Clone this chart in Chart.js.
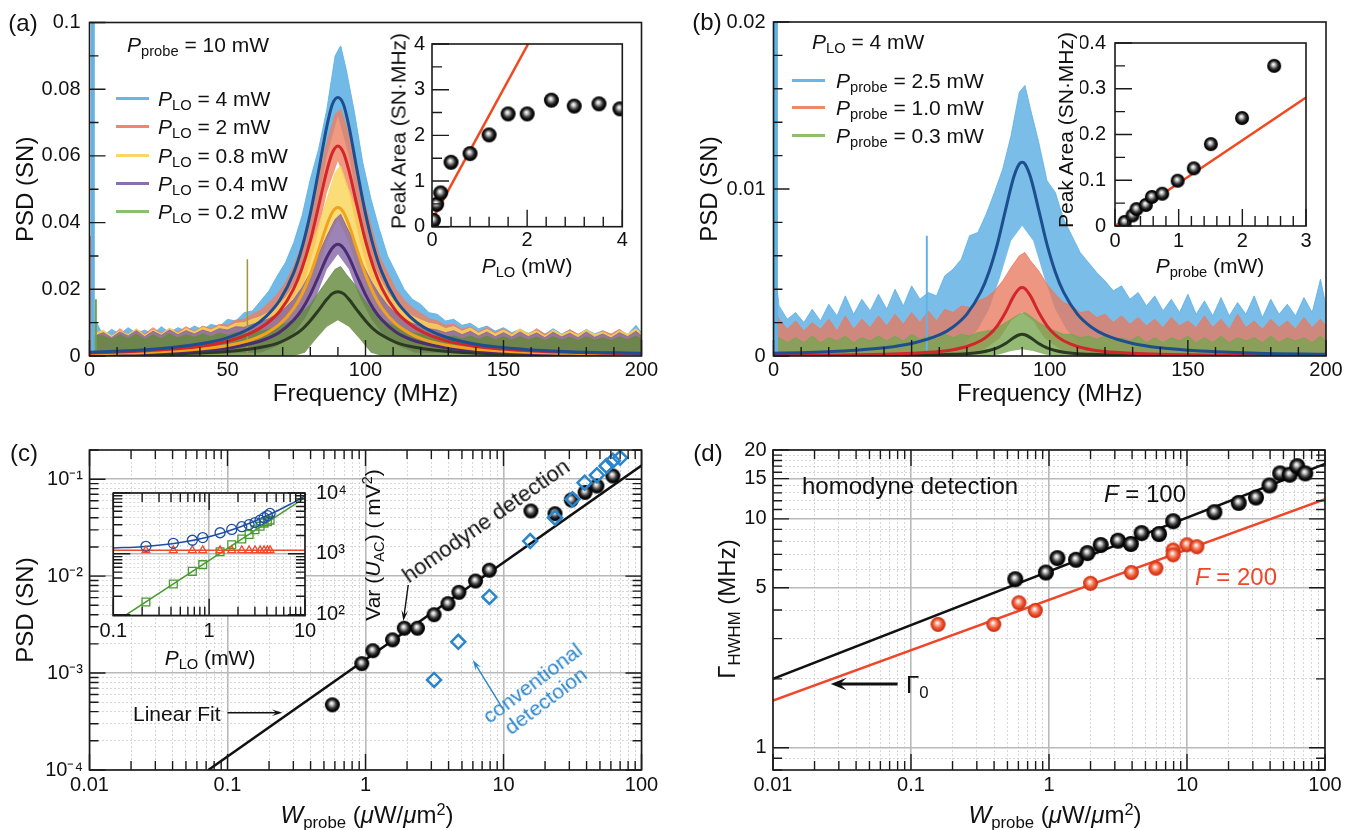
<!DOCTYPE html>
<html>
<head>
<meta charset="utf-8">
<title>Homodyne detection of the PSD peak</title>
<script src="https://cdn.jsdelivr.net/npm/chart.js@4.4.1/dist/chart.umd.min.js"></script>
<style>
  body { margin: 0; width: 1351px; height: 830px; position: relative; overflow: hidden; background: #fff;
         font-family: "Liberation Sans", Arial, sans-serif; color: #111; }
  canvas { position: absolute; }
  .t { position: absolute; white-space: nowrap; line-height: 1; }
  .t sub { font-size: 0.7em; vertical-align: -0.32em; line-height: 0; font-style: normal; }
  .t sup { font-size: 0.68em; vertical-align: 0.5em; line-height: 0; }
  .key { position: absolute; height: 3px; }
</style>
</head>
<body>
<script>
const FONT = '"Liberation Sans", Arial, sans-serif';

// ---------- (a) / (b) spectra : upper and lower edge of the noisy traces ----------
const FREQ = [0, 2, 5, 8, 11, 14, 17, 20, 23, 26, 29, 32, 35, 38, 41, 44, 47, 50, 53, 56, 59, 62, 65, 68, 71, 74, 77, 80, 83, 86,
  89, 91, 93, 96, 99, 102, 105, 108, 111, 114, 117, 120, 123, 126, 129, 132, 135, 138, 141, 144, 147, 150, 153, 156, 159,
  162, 165, 168, 171, 174, 177, 180, 183, 186, 189, 192, 195, 198, 200];
const LOW_FREQ = [0, 62, 68, 74, 78, 82, 86, 90, 94, 98, 102, 106, 112, 118, 200];

const A_BLUE_HI = [0.009, 0.011, 0.006, 0.008, 0.0065, 0.0085, 0.0068, 0.0078, 0.0065, 0.0088, 0.007, 0.0085, 0.0075, 0.009, 0.0078,
  0.0095, 0.0088, 0.011, 0.0105, 0.013, 0.0135, 0.0165, 0.0195, 0.024, 0.028, 0.034, 0.042, 0.053, 0.062, 0.074, 0.09, 0.093, 0.086,
  0.073, 0.058, 0.047, 0.038, 0.03, 0.025, 0.02, 0.017, 0.0155, 0.013, 0.0125, 0.0105, 0.011, 0.0092, 0.0098, 0.0082, 0.009, 0.0075,
  0.0085, 0.007, 0.008, 0.0068, 0.0078, 0.0065, 0.0082, 0.0066, 0.0078, 0.0064, 0.008, 0.0066, 0.0076, 0.0063, 0.0078, 0.0065, 0.0092, 0.007];
const A_RED_HI = [0.011, 0.007, 0.0075, 0.0058, 0.0082, 0.0062, 0.008, 0.0066, 0.0085, 0.0068, 0.0082, 0.0072, 0.0088, 0.0074, 0.009,
  0.0082, 0.0095, 0.0092, 0.0108, 0.011, 0.0125, 0.0138, 0.016, 0.0185, 0.022, 0.027, 0.0335, 0.043, 0.053, 0.064, 0.0725, 0.074, 0.069,
  0.06, 0.048, 0.039, 0.03, 0.025, 0.02, 0.0168, 0.0145, 0.0128, 0.0112, 0.0105, 0.0092, 0.0095, 0.008, 0.0088, 0.0072, 0.0085, 0.007,
  0.0082, 0.0066, 0.0078, 0.0064, 0.0082, 0.0066, 0.0076, 0.0062, 0.0079, 0.0065, 0.0077, 0.0061, 0.0075, 0.0066, 0.008, 0.0062, 0.0078, 0.0066];
const A_YEL_HI = [0.008, 0.0068, 0.0078, 0.006, 0.0075, 0.0064, 0.0082, 0.0062, 0.0078, 0.0066, 0.0084, 0.0068, 0.0082, 0.0072, 0.0086,
  0.0078, 0.009, 0.0086, 0.0098, 0.01, 0.011, 0.0118, 0.0132, 0.015, 0.0175, 0.021, 0.026, 0.032, 0.039, 0.047, 0.055, 0.057, 0.052,
  0.045, 0.036, 0.029, 0.0235, 0.019, 0.0158, 0.0135, 0.012, 0.0108, 0.0098, 0.0094, 0.0082, 0.0088, 0.0074, 0.0084, 0.0068, 0.008, 0.0066,
  0.0078, 0.0064, 0.0082, 0.0066, 0.0076, 0.006, 0.0078, 0.0064, 0.0074, 0.0062, 0.0079, 0.0064, 0.0072, 0.006, 0.0076, 0.0066, 0.0082, 0.0068];
const A_PUR_HI = [0.0075, 0.006, 0.007, 0.0055, 0.0072, 0.006, 0.0076, 0.0058, 0.0074, 0.0062, 0.0078, 0.0064, 0.0076, 0.0066, 0.0078,
  0.007, 0.0082, 0.0078, 0.0088, 0.0086, 0.0095, 0.0102, 0.0112, 0.0126, 0.0145, 0.017, 0.0205, 0.025, 0.0305, 0.036, 0.041, 0.0425, 0.039,
  0.034, 0.0275, 0.0225, 0.0185, 0.0152, 0.0128, 0.011, 0.0098, 0.009, 0.0082, 0.0078, 0.007, 0.0076, 0.0064, 0.0074, 0.006, 0.0072, 0.0058,
  0.007, 0.0057, 0.0072, 0.0058, 0.0069, 0.0055, 0.0071, 0.0057, 0.0068, 0.0055, 0.0072, 0.0056, 0.0066, 0.0054, 0.007, 0.0058, 0.0074, 0.006];
const A_GRN_HI = [0.0065, 0.0062, 0.006, 0.005, 0.0063, 0.0052, 0.0065, 0.005, 0.0063, 0.0052, 0.0066, 0.0054, 0.0064, 0.0056, 0.0066,
  0.0058, 0.0068, 0.0062, 0.007, 0.0066, 0.0072, 0.0074, 0.008, 0.0087, 0.0097, 0.011, 0.013, 0.0155, 0.019, 0.0225, 0.026, 0.0268, 0.0245,
  0.0215, 0.0175, 0.0142, 0.0118, 0.01, 0.0088, 0.0078, 0.007, 0.0066, 0.006, 0.0062, 0.0056, 0.006, 0.0052, 0.006, 0.005, 0.0059, 0.0049,
  0.0058, 0.0048, 0.0058, 0.0048, 0.0057, 0.0047, 0.0058, 0.0048, 0.0056, 0.0047, 0.0058, 0.0048, 0.0055, 0.0047, 0.0057, 0.0049, 0.006, 0.005];

const A_BLUE_LO = [0, 0.004, 0.009, 0.0175, 0.027, 0.042, 0.06, 0.072, 0.06, 0.042, 0.027, 0.0175, 0.009, 0.004, 0];
const A_RED_LO = [0, 0.003, 0.0075, 0.0145, 0.0225, 0.034, 0.049, 0.0585, 0.049, 0.034, 0.0225, 0.0145, 0.0075, 0.003, 0];
const A_YEL_LO = [0, 0.0015, 0.0045, 0.0095, 0.015, 0.0235, 0.034, 0.041, 0.034, 0.0235, 0.015, 0.0095, 0.0045, 0.0015, 0];
const A_PUR_LO = [0, 0.001, 0.003, 0.0068, 0.0112, 0.0175, 0.026, 0.0305, 0.026, 0.0175, 0.0112, 0.0068, 0.003, 0.001, 0];
const A_GRN_LO = [0, 0, 0, 0, 0.001, 0.005, 0.0088, 0.0107, 0.0088, 0.005, 0.001, 0, 0, 0, 0];

const B_BLUE_HI = [0.006, 0.003, 0.0022, 0.0026, 0.002, 0.0028, 0.0021, 0.0031, 0.0024, 0.0036, 0.0025, 0.0034, 0.0027, 0.0037, 0.0028,
  0.004, 0.003, 0.0042, 0.0034, 0.0038, 0.0036, 0.0048, 0.0052, 0.0058, 0.0072, 0.0074, 0.0085, 0.0098, 0.0112, 0.0132, 0.0158, 0.0162,
  0.0148, 0.0128, 0.0105, 0.0098, 0.0082, 0.0072, 0.0062, 0.0056, 0.005, 0.0045, 0.0039, 0.0042, 0.0034, 0.0038, 0.003, 0.0036, 0.0027,
  0.0034, 0.0026, 0.0037, 0.0025, 0.0033, 0.0024, 0.0035, 0.0024, 0.0032, 0.0025, 0.0036, 0.0023, 0.0034, 0.0025, 0.0031, 0.0024, 0.0035,
  0.0026, 0.0046, 0.003];
const B_RED_HI = [0.003, 0.0022, 0.0016, 0.0021, 0.0015, 0.002, 0.0016, 0.0022, 0.0015, 0.0024, 0.0016, 0.0022, 0.0017, 0.0024, 0.0018,
  0.0025, 0.0019, 0.0026, 0.002, 0.0027, 0.0021, 0.0028, 0.0026, 0.003, 0.0029, 0.0033, 0.0035, 0.0039, 0.0045, 0.0053, 0.006, 0.0062,
  0.0057, 0.0051, 0.0043, 0.0037, 0.0032, 0.003, 0.0026, 0.0027, 0.0023, 0.0025, 0.002, 0.0024, 0.0019, 0.0023, 0.0018, 0.0022, 0.0017,
  0.0023, 0.0018, 0.0021, 0.0017, 0.0024, 0.0017, 0.0022, 0.0016, 0.0025, 0.0017, 0.0021, 0.0016, 0.0022, 0.0017, 0.0021, 0.0016, 0.0023,
  0.0017, 0.0022, 0.0018];
const B_GRN_HI = [0.0012, 0.0011, 0.0008, 0.0011, 0.0008, 0.0012, 0.0008, 0.0011, 0.0009, 0.0012, 0.0008, 0.0011, 0.0009, 0.0012, 0.0009,
  0.0012, 0.0009, 0.0013, 0.001, 0.0012, 0.001, 0.0013, 0.0011, 0.0013, 0.0012, 0.0014, 0.0015, 0.0016, 0.0019, 0.0022, 0.0025, 0.0026,
  0.0024, 0.002, 0.0017, 0.0015, 0.0013, 0.0013, 0.0011, 0.0012, 0.001, 0.0012, 0.0009, 0.0011, 0.0009, 0.0012, 0.0008, 0.0011, 0.0008,
  0.0011, 0.0009, 0.0012, 0.0008, 0.0011, 0.0008, 0.0012, 0.0008, 0.0011, 0.0009, 0.0011, 0.0008, 0.0012, 0.0008, 0.0011, 0.0009, 0.0011,
  0.0008, 0.0012, 0.0009];
const B_BLUE_LO = [0, 0, 0.0005, 0.0016, 0.0028, 0.0047, 0.0069, 0.0078, 0.0069, 0.0047, 0.0028, 0.0016, 0.0005, 0, 0];
const B_RED_LO = [0, 0, 0, 0.0002, 0.0006, 0.0011, 0.0021, 0.0026, 0.0021, 0.0011, 0.0006, 0.0002, 0, 0, 0];
const B_GRN_LO = [0, 0, 0, 0, 0, 0.0001, 0.0003, 0.0004, 0.0003, 0.0001, 0, 0, 0, 0, 0];

// narrow spikes (frequency, height)
const A_SPIKE_F = [1.2, 0.4, 2.3, 57.2];
const A_SPIKE_H = [0.1, 0.036, 0.017, 0.029];
const B_SPIKE_F = [0.7, 0.25, 55.5];
const B_SPIKE_H = [0.02, 0.0115, 0.0072];

// Lorentzian fits
const FIT_FREQ_A = [0, 9, 19, 29, 39, 49, 59, 64, 69, 74, 77, 80, 83, 86, 88, 90, 92, 94, 97, 100, 103, 106, 111, 116, 121, 129, 139, 149, 159, 174, 200];
const A_BLUE_FIT = [0.0011, 0.0014, 0.0018, 0.0025, 0.0035, 0.0052, 0.0087, 0.0119, 0.0168, 0.025, 0.0325, 0.0427, 0.0555, 0.0689, 0.0755,
  0.0775, 0.0755, 0.0689, 0.0555, 0.0427, 0.0325, 0.025, 0.0168, 0.0119, 0.0087, 0.0057, 0.0037, 0.0026, 0.0019, 0.0013, 0.0008];
const A_RED_FIT = [0.0009, 0.0011, 0.0015, 0.002, 0.0028, 0.0042, 0.0071, 0.0096, 0.0135, 0.0202, 0.0263, 0.0345, 0.0449, 0.0556, 0.061,
  0.063, 0.061, 0.0556, 0.0449, 0.0345, 0.0263, 0.0202, 0.0135, 0.0096, 0.0071, 0.0046, 0.003, 0.0021, 0.0016, 0.0011, 0.0006];
const A_YEL_FIT = [0.0006, 0.0008, 0.001, 0.0014, 0.002, 0.003, 0.005, 0.0068, 0.0096, 0.0143, 0.0186, 0.0244, 0.0317, 0.0393, 0.0431,
  0.0445, 0.0431, 0.0393, 0.0317, 0.0244, 0.0186, 0.0143, 0.0096, 0.0068, 0.005, 0.0033, 0.0021, 0.0015, 0.0011, 0.0008, 0.0004];
const A_PUR_FIT = [0.0005, 0.0006, 0.0008, 0.0011, 0.0015, 0.0022, 0.0038, 0.0051, 0.0072, 0.0108, 0.014, 0.0184, 0.0239, 0.0296, 0.0324,
  0.0335, 0.0324, 0.0296, 0.0239, 0.0184, 0.014, 0.0108, 0.0072, 0.0051, 0.0038, 0.0025, 0.0016, 0.0011, 0.0008, 0.0006, 0.0003];
const A_GRN_FIT = [0.0003, 0.0003, 0.0005, 0.0006, 0.0009, 0.0013, 0.0022, 0.0029, 0.0041, 0.0062, 0.008, 0.0106, 0.0137, 0.017, 0.0187,
  0.0193, 0.0187, 0.017, 0.0137, 0.0106, 0.008, 0.0062, 0.0041, 0.0029, 0.0022, 0.0014, 0.0009, 0.0006, 0.0005, 0.0003, 0.0002];

const FIT_FREQ_B = [0, 10, 20, 30, 40, 50, 60, 65, 70, 75, 78, 81, 84, 87, 89, 90, 91, 93, 96, 99, 102, 105, 110, 115, 120, 130, 140, 150, 160, 175, 200];
const B_BLUE_FIT = [0.00016, 0.0002, 0.00026, 0.00035, 0.00049, 0.00075, 0.00126, 0.00174, 0.00251, 0.00382, 0.00503, 0.00668, 0.00875,
  0.01073, 0.0115, 0.0116, 0.0115, 0.01073, 0.00875, 0.00668, 0.00503, 0.00382, 0.00251, 0.00174, 0.00126, 0.00075, 0.00049, 0.00035,
  0.00026, 0.00017, 0.0001];
const B_RED_FIT = [0.00003, 0.00004, 0.00005, 0.00007, 0.0001, 0.00016, 0.00027, 0.00038, 0.00057, 0.00091, 0.00126, 0.00181, 0.00262,
  0.0036, 0.00404, 0.0041, 0.00404, 0.0036, 0.00262, 0.00181, 0.00126, 0.00091, 0.00057, 0.00038, 0.00027, 0.00016, 0.0001, 0.00007,
  0.00005, 0.00004, 0.00002];
const B_GRN_FIT = [0.00001, 0.00001, 0.00001, 0.00002, 0.00003, 0.00004, 0.00007, 0.0001, 0.00014, 0.00023, 0.00033, 0.00049, 0.00075,
  0.0011, 0.00127, 0.0013, 0.00127, 0.0011, 0.00075, 0.00049, 0.00033, 0.00023, 0.00014, 0.0001, 0.00007, 0.00004, 0.00003, 0.00002,
  0.00001, 0.00001, 0.00001];

// ---------- insets of (a) and (b): peak area ----------
const AI_PLO = [0.03, 0.098, 0.182, 0.4, 0.8, 1.2, 1.6, 2.0, 2.51, 2.99, 3.51, 3.95];
const AI_AREA = [0.14, 0.49, 0.74, 1.41, 1.6, 2.01, 2.47, 2.47, 2.77, 2.64, 2.69, 2.58];
const AI_FIT_X = [0.03, 2.02];
const AI_FIT_Y = [0.2, 4];
const BI_PPROBE = [0.153, 0.274, 0.337, 0.484, 0.579, 0.742, 0.984, 1.237, 1.505, 1.995, 2.5];
const BI_AREA = [0.009, 0.023, 0.037, 0.046, 0.0635, 0.0705, 0.099, 0.126, 0.179, 0.236, 0.35];
const BI_FIT_X = [0, 3];
const BI_FIT_Y = [0, 0.281];

// ---------- (c) PSD versus probe intensity ----------
const C_HOMO_W = [0.575, 0.94, 1.13, 1.57, 1.91, 2.38, 3.14, 3.96, 4.75, 6.27, 7.9, 15.8, 23.6, 31, 39, 47.5, 62];
const C_HOMO_PSD = [4.7e-4, 1.25e-3, 1.7e-3, 2.2e-3, 2.9e-3, 2.9e-3, 4.0e-3, 5.2e-3, 6.8e-3, 8.9e-3, 1.15e-2, 0.047, 0.044, 0.061,
  0.073, 0.085, 0.108];
const C_CONV_W = [3.14, 4.7, 7.9, 15.6, 23.6, 31.6, 38.7, 47.5, 55.8, 62, 70];
const C_CONV_PSD = [8.5e-4, 2.1e-3, 6.1e-3, 0.023, 0.040, 0.062, 0.092, 0.11, 0.137, 0.155, 0.166];
const C_FIT_W = [0.0726, 100];
const C_FIT_PSD = [1e-4, 0.138];

// inset of (c): Var(U_AC) versus P_LO
const CI_PLO = [0.219, 0.423, 0.668, 0.857, 1.30, 1.72, 2.19, 2.61, 3.01, 3.40, 3.74, 4.05, 4.32];
const CI_TOTAL = [1327, 1486, 1671, 1851, 2218, 2518, 2790, 3020, 3268, 3581, 3928, 4252, 4606];
const CI_TECH = [1140, 1140, 1140, 1140, 1140, 1140, 1140, 1140, 1140, 1140, 1140, 1140, 1140];
const CI_SIGNAL = [161, 319, 515, 664, 1081, 1409, 1747, 2074, 2486, 2849, 3199, 3381, 3581];
const CI_TOTAL_FIT_X = [0.1, 0.2, 0.5, 1, 2, 4, 7, 10];
const CI_TOTAL_FIT_Y = [1250, 1310, 1530, 1910, 2680, 4220, 6530, 8930];
const CI_TECH_FIT_X = [0.1, 10];
const CI_TECH_FIT_Y = [1140, 1140];
const CI_SIG_FIT_X = [0.132, 10];
const CI_SIG_FIT_Y = [96, 8430];

// ---------- (d) linewidth versus probe intensity ----------
const D_F100_W = [0.57, 0.95, 1.15, 1.57, 1.9, 2.37, 3.16, 3.92, 4.69, 6.27, 7.94, 15.8, 23.7, 31.6, 39.6, 47.3, 55.5, 63, 72];
const D_F100_G = [5.45, 5.83, 6.74, 6.63, 7.09, 7.69, 8.03, 7.77, 8.67, 8.59, 9.77, 10.7, 11.75, 12.4, 14.0, 15.8, 15.6, 17.0, 15.8];
const D_F200_W = [0.157, 0.398, 0.605, 0.795, 2.0, 3.95, 5.95, 7.94, 7.94, 10, 11.8];
const D_F200_G = [3.46, 3.46, 4.30, 3.98, 5.23, 5.83, 6.09, 7.31, 6.97, 7.71, 7.56];
const D_FIT100_W = [0.01, 100];
const D_FIT100_G = [2.0, 17.4];
const D_FIT200_W = [0.01, 100];
const D_FIT200_G = [1.61, 12.2];

// tick values
const DECADES = [0.0001, 0.001, 0.01, 0.1, 1, 10, 100, 1000, 10000];
const D_Y_MAJOR = [1, 5, 10, 15, 20];
const D_Y_MINOR = [0.8, 0.9, 2, 3, 4, 6, 7, 8, 9, 11, 12, 13, 14, 16, 17, 18, 19];

// ----------------------------------------------------------------------------------
const pts = (xs, ys) => xs.map((x, i) => ({ x, y: ys[i] }));

function lin(lo, hi, step, every) {
  const out = [];
  const n = Math.round((hi - lo) / step);
  for (let i = 0; i <= n; i++) {
    const v = +(lo + i * step).toFixed(6);
    out.push({ value: v, major: Math.abs(v / every - Math.round(v / every)) < 1e-6 });
  }
  return out;
}
function logt(lo, hi, majors) {
  const out = [];
  for (let e = Math.floor(Math.log10(lo)); e <= Math.ceil(Math.log10(hi)); e++) {
    for (let m = 1; m <= 9; m++) {
      const v = +(m * Math.pow(10, e)).toPrecision(4);
      if (v < lo * 0.9999 || v > hi * 1.0001) continue;
      out.push({ value: v, major: majors.some((M) => Math.abs(M / v - 1) < 1e-6) });
    }
  }
  return out;
}
const SUP = { '-': '\u207B', '1': '\u00B9', '2': '\u00B2', '3': '\u00B3', '4': '\u2074' };
const pow10 = (v) => '10' + String(Math.round(Math.log10(v))).split('').map((c) => SUP[c]).join('');
const plain = (v) => String(v);

//glossy sphere used as point style
function sphere(r, stops) {
  const c = document.createElement('canvas');
  c.width = c.height = 2 * r + 2;
  const g = c.getContext('2d');
  const m = r + 1;
  const grad = g.createRadialGradient(m - r * 0.12, m - r * 0.22, r * 0.05, m, m, r);
  stops.forEach((s, i) => grad.addColorStop(i / (stops.length - 1), s));
  g.fillStyle = grad;
  g.beginPath();
  g.arc(m, m, r, 0, Math.PI * 2);
  g.fill();
  return c;
}
const BLACK = ['#ffffff', '#b0b0b0', '#444444', '#0a0a0a', '#000000'];
const RED = ['#ffffff', '#fbb09c', '#f06a48', '#e2401e', '#c42d10'];

// frame with inward ticks
const frame = {
  id: 'frame',
  beforeDraw(chart, args, o) {
    if (!o.bg) return;
    const { ctx, chartArea: a } = chart;
    ctx.save();
    ctx.fillStyle = '#fff';
    ctx.fillRect(a.left, a.top, a.width, a.height);
    ctx.restore();
  },
  afterDatasetsDraw(chart, args, o) {
    const { ctx, chartArea: a } = chart;
    ctx.save();
    ctx.strokeStyle = '#1a1a1a';
    ctx.lineWidth = 1.4;
    ctx.beginPath();
    for (const t of chart.scales.x.ticks) {
      const p = chart.scales.x.getPixelForValue(t.value);
      const len = t.major ? o.major : o.minor;
      if (o.sides.includes('b')) { ctx.moveTo(p, a.bottom); ctx.lineTo(p, a.bottom - len); }
      if (o.sides.includes('t')) { ctx.moveTo(p, a.top); ctx.lineTo(p, a.top + len); }
    }
    for (const t of chart.scales.y.ticks) {
      const p = chart.scales.y.getPixelForValue(t.value);
      const len = t.major ? o.major : o.minor;
      if (o.sides.includes('l')) { ctx.moveTo(a.left, p); ctx.lineTo(a.left + len, p); }
      if (o.sides.includes('r')) { ctx.moveTo(a.right, p); ctx.lineTo(a.right - len, p); }
    }
    ctx.stroke();
    ctx.lineWidth = 1.6;
    ctx.strokeRect(a.left, a.top, a.width, a.height);
    ctx.restore();
  },
};

// annotation arrows, given in data coordinates
const arrows = {
  id: 'arrows',
  afterDatasetsDraw(chart, args, o) {
    const { ctx } = chart;
    const sx = chart.scales.x, sy = chart.scales.y;
    for (const a of o.list || []) {
      const x1 = sx.getPixelForValue(a.from[0]), y1 = sy.getPixelForValue(a.from[1]);
      const x2 = sx.getPixelForValue(a.to[0]), y2 = sy.getPixelForValue(a.to[1]);
      const ang = Math.atan2(y2 - y1, x2 - x1);
      const h = a.head || 11, sp = a.spread || 0.3;
      ctx.save();
      ctx.strokeStyle = ctx.fillStyle = a.color || '#111';
      ctx.lineWidth = a.width || 1.4;
      ctx.beginPath();
      ctx.moveTo(x1, y1);
      ctx.lineTo(x2 - Math.cos(ang) * h * 0.5, y2 - Math.sin(ang) * h * 0.5);
      ctx.stroke();
      ctx.beginPath();
      ctx.moveTo(x2, y2);
      ctx.lineTo(x2 - h * Math.cos(ang - sp), y2 - h * Math.sin(ang - sp));
      ctx.lineTo(x2 - h * 0.55 * Math.cos(ang), y2 - h * 0.55 * Math.sin(ang));
      ctx.lineTo(x2 - h * Math.cos(ang + sp), y2 - h * Math.sin(ang + sp));
      ctx.closePath();
      ctx.fill();
      ctx.restore();
    }
  },
};

function axis(s, fit, position) {
  return {
    type: s.type || 'linear',
    position,
    min: s.min,
    max: s.max,
    afterBuildTicks: (sc) => { sc.ticks = s.ticks.map((t) => ({ ...t })); },
    afterFit: (sc) => { if (position === 'bottom') sc.height = fit; else sc.width = fit; },
    ticks: {
      autoSkip: false, maxRotation: 0, minRotation: 0, padding: s.pad, color: '#111',
      font: { family: FONT, size: s.size || 20 },
      callback: (v, i, ts) => (ts[i] && ts[i].major ? s.fmt(v) : ''),
    },
    grid: s.grid
      ? { drawTicks: false, color: (c) => (c.tick && c.tick.major ? '#b9b9b9' : '#cfcfcf'),
          lineWidth: (c) => (c.tick && c.tick.major ? 1.6 : 0.8) }
      : { display: false, drawTicks: false },
    border: { display: false, dash: (c) => (c.tick && !c.tick.major ? [2, 2] : []) },
    title: s.title
      ? { display: true, text: s.title, color: '#111', font: { family: FONT, size: 24 }, padding: s.titlePad }
      : { display: false },
  };
}

function panel(rect, area, cfg) {
  const cv = document.createElement('canvas');
  cv.width = rect.w;
  cv.height = rect.h;
  cv.style.left = rect.x + 'px';
  cv.style.top = rect.y + 'px';
  document.body.appendChild(cv);
  const right = !!cfg.yRight;
  const xFit = rect.y + rect.h - area.b;
  const yFit = right ? rect.x + rect.w - area.r : area.l - rect.x;
  return new Chart(cv, {
    type: 'scatter',
    data: { datasets: cfg.datasets },
    options: {
      responsive: false, animation: false, devicePixelRatio: 1, events: [],
      layout: { padding: { top: area.t - rect.y, bottom: 0,
        left: right ? area.l - rect.x : 0, right: right ? 0 : rect.x + rect.w - area.r } },
      scales: { x: axis(cfg.x, xFit, 'bottom'), y: axis(cfg.y, yFit, right ? 'right' : 'left') },
      plugins: { legend: { display: false }, tooltip: { enabled: false }, frame: cfg.frame, arrows: { list: cfg.arrows || [] } },
    },
    plugins: [frame, arrows],
  });
}

// dataset builders
function band(lo, hi, color, order) {
  return [
    { data: pts(LOW_FREQ, lo), showLine: true, borderWidth: 0, pointRadius: 0, fill: false, order: 50 },
    { data: pts(FREQ, hi), showLine: true, borderWidth: 1, borderColor: color, backgroundColor: color, pointRadius: 0, fill: '-1', order, clip: 0 },
  ];
}
const fit = (xs, ys, color, order, w) => ({ data: pts(xs, ys), showLine: true, borderColor: color, borderWidth: w || 3,
  pointRadius: 0, cubicInterpolationMode: 'monotone', fill: false, order, clip: 0 });
const spike = (f, h, color, w, order) => ({ data: [{ x: f, y: 0 }, { x: f, y: h }], showLine: true, borderColor: color,
  borderWidth: w, pointRadius: 0, fill: false, order, clip: 0 });
const balls = (xs, ys, img, order) => ({ data: pts(xs, ys), pointStyle: img, pointRadius: 7, order: order || 0, clip: 0 });
const marks = (xs, ys, style, r, color, w) => ({ data: pts(xs, ys), pointStyle: style, pointRadius: r, borderColor: color,
  backgroundColor: 'rgba(0,0,0,0)', borderWidth: w, order: 0, clip: 0 });

const C_BLUE = 'rgba(98,178,228,0.9)', C_RED = 'rgba(238,128,98,0.8)', C_YEL = 'rgba(250,212,85,0.8)';
const C_PUR = 'rgba(128,98,165,0.78)', C_GRN = 'rgba(100,138,62,0.82)';

// ---------------- (a) ----------------
panel({ x: 0, y: 0, w: 680, h: 410 }, { l: 89.5, t: 22.5, r: 641.5, b: 356 }, {
  x: { min: 0, max: 200, ticks: lin(0, 200, 10, 50), fmt: plain, pad: 2, title: 'Frequency (MHz)', titlePad: { top: 0, bottom: 1 } },
  y: { min: 0, max: 0.1, ticks: lin(0, 0.1, 0.01, 0.02), fmt: plain, pad: 9, title: 'PSD (SN)', titlePad: { top: 12, bottom: 0 } },
  frame: { sides: 'lb', major: 16, minor: 9 },
  datasets: [
    ...band(A_BLUE_LO, A_BLUE_HI, C_BLUE, 10),
    ...band(A_RED_LO, A_RED_HI, C_RED, 9),
    ...band(A_YEL_LO, A_YEL_HI, C_YEL, 8),
    ...band(A_PUR_LO, A_PUR_HI, C_PUR, 7),
    ...band(A_GRN_LO, A_GRN_HI, C_GRN, 6),
    spike(A_SPIKE_F[0], A_SPIKE_H[0], 'rgb(98,178,228)', 4, 5),
    spike(A_SPIKE_F[1], A_SPIKE_H[1], 'rgb(238,128,98)', 2, 5),
    spike(A_SPIKE_F[2], A_SPIKE_H[2], 'rgb(112,160,72)', 2, 5),
    spike(A_SPIKE_F[3], A_SPIKE_H[3], 'rgb(160,150,60)', 1.5, 5),
    fit(FIT_FREQ_A, A_BLUE_FIT, '#1d4e8f', 1),
    fit(FIT_FREQ_A, A_RED_FIT, '#d3262a', 1),
    fit(FIT_FREQ_A, A_YEL_FIT, '#f2a21c', 1),
    fit(FIT_FREQ_A, A_PUR_FIT, '#4b2d72', 1),
    fit(FIT_FREQ_A, A_GRN_FIT, '#2b3a21', 1),
  ],
});
panel({ x: 405, y: 25, w: 245, h: 235 }, { l: 432, t: 37.7, r: 622.3, b: 226.7 }, {
  x: { min: 0, max: 4, ticks: lin(0, 4, 0.4, 2), fmt: plain, pad: 1.5 },
  y: { min: 0, max: 4, ticks: lin(0, 4, 0.5, 1), fmt: plain, pad: 7 },
  frame: { sides: 'lb', major: 17, minor: 10, bg: true },
  datasets: [
    fit(AI_FIT_X, AI_FIT_Y, '#f2481f', 2, 2.5),
    balls(AI_PLO, AI_AREA, sphere(7.5, BLACK)),
  ],
});

// ---------------- (b) ----------------
panel({ x: 680, y: 0, w: 671, h: 410 }, { l: 773.5, t: 22, r: 1326, b: 356 }, {
  x: { min: 0, max: 200, ticks: lin(0, 200, 10, 50), fmt: plain, pad: 2, title: 'Frequency (MHz)', titlePad: { top: 0, bottom: 1 } },
  y: { min: 0, max: 0.02, ticks: lin(0, 0.02, 0.002, 0.01), fmt: plain, pad: 8, title: 'PSD (SN)', titlePad: { top: 16, bottom: 0 } },
  frame: { sides: 'lb', major: 16, minor: 9 },
  datasets: [
    ...band(B_BLUE_LO, B_BLUE_HI, 'rgba(98,178,228,0.85)', 10),
    ...band(B_RED_LO, B_RED_HI, 'rgba(232,122,95,0.78)', 9),
    ...band(B_GRN_LO, B_GRN_HI, 'rgba(118,165,78,0.78)', 8),
    spike(B_SPIKE_F[0], B_SPIKE_H[0], 'rgb(98,178,228)', 5, 5),
    spike(B_SPIKE_F[1], B_SPIKE_H[1], 'rgb(238,128,98)', 2, 5),
    spike(B_SPIKE_F[2], B_SPIKE_H[2], 'rgb(98,178,228)', 2, 5),
    fit(FIT_FREQ_B, B_BLUE_FIT, '#1d4e8f', 1),
    fit(FIT_FREQ_B, B_RED_FIT, '#d3262a', 1),
    fit(FIT_FREQ_B, B_GRN_FIT, '#2b3a21', 1),
  ],
});
panel({ x: 1080, y: 22, w: 255, h: 240 }, { l: 1115, t: 35, r: 1306, b: 226 }, {
  x: { min: 0, max: 3, ticks: lin(0, 3, 0.2, 1), fmt: plain, pad: 3.5 },
  y: { min: 0, max: 0.4, ticks: lin(0, 0.4, 0.05, 0.1), fmt: plain, pad: 9 },
  frame: { sides: 'lb', major: 17, minor: 10, bg: true },
  datasets: [
    fit(BI_FIT_X, BI_FIT_Y, '#f2481f', 2, 2.5),
    balls(BI_PPROBE, BI_AREA, sphere(7, BLACK)),
  ],
});

// ---------------- (c) ----------------
panel({ x: 0, y: 415, w: 680, h: 415 }, { l: 89.5, t: 450, r: 641.5, b: 770 }, {
  x: { type: 'logarithmic', min: 0.01, max: 100, ticks: logt(0.01, 100, DECADES), fmt: plain, pad: 3, grid: true },
  y: { type: 'logarithmic', min: 1e-4, max: 0.2, ticks: logt(1e-4, 0.2, DECADES), fmt: pow10, pad: 6.5, grid: true,
       title: 'PSD (SN)', titlePad: { top: 12, bottom: 0 } },
  frame: { sides: 'lbtr', major: 16, minor: 9 },
  arrows: [
    { from: [0.1, 3.9e-4], to: [0.25, 3.9e-4] },
    { from: [2.04, 8.1e-3], to: [1.88, 3.45e-3] },
    { from: [9.5, 4.7e-4], to: [6.0, 1.36e-3], color: '#2a86cc' },
  ],
  datasets: [
    fit(C_FIT_W, C_FIT_PSD, '#111', 2, 2.5),
    balls(C_HOMO_W, C_HOMO_PSD, sphere(7.5, BLACK), 1),
    marks(C_CONV_W, C_CONV_PSD, 'rectRot', 7, '#2a86cc', 2.5),
  ],
});
panel({ x: 92, y: 470, w: 260, h: 180 }, { l: 113.3, t: 480, r: 305, b: 615.7 }, {
  x: { type: 'logarithmic', min: 0.1, max: 10, ticks: logt(0.1, 10, DECADES), fmt: plain, pad: 4, grid: true },
  y: { type: 'logarithmic', min: 96, max: 10000, ticks: logt(96, 10000, DECADES), fmt: pow10, pad: 11, grid: true },
  yRight: true,
  frame: { sides: 'lbtr', major: 17, minor: 9, bg: true },
  datasets: [
    fit(CI_TOTAL_FIT_X, CI_TOTAL_FIT_Y, '#1f4fa0', 2, 1.5),
    fit(CI_TECH_FIT_X, CI_TECH_FIT_Y, '#f04a2a', 2, 1.5),
    fit(CI_SIG_FIT_X, CI_SIG_FIT_Y, '#4a9a30', 2, 1.5),
    marks(CI_PLO, CI_TOTAL, 'circle', 5, '#1f4fa0', 1.3),
    marks(CI_PLO, CI_TECH, 'triangle', 4.5, '#f04a2a', 1.3),
    marks(CI_PLO, CI_SIGNAL, 'rect', 5.5, '#4a9a30', 1.3),
  ],
});

// ---------------- (d) ----------------
const dTicks = [...D_Y_MAJOR.map((v) => ({ value: v, major: true })), ...D_Y_MINOR.map((v) => ({ value: v, major: false }))]
  .sort((p, q) => p.value - q.value);
panel({ x: 680, y: 415, w: 671, h: 415 }, { l: 773, t: 450, r: 1325, b: 770 }, {
  x: { type: 'logarithmic', min: 0.01, max: 100, ticks: logt(0.01, 100, DECADES), fmt: plain, pad: 3, grid: true },
  y: { type: 'logarithmic', min: 0.8, max: 20, ticks: dTicks, fmt: plain, pad: 6.5, grid: true },
  frame: { sides: 'lbtr', major: 16, minor: 9 },
  arrows: [{ from: [0.08, 1.9], to: [0.0262, 1.9], width: 3, head: 17, spread: 0.38 }],
  datasets: [
    fit(D_FIT100_W, D_FIT100_G, '#111', 2, 2.5),
    fit(D_FIT200_W, D_FIT200_G, '#f0462a', 2, 2.5),
    balls(D_F100_W, D_F100_G, sphere(8, BLACK), 1),
    balls(D_F200_W, D_F200_G, sphere(7.5, RED), 1),
  ],
});

// ---------------- text ----------------
function txt(html, x, y, o = {}) {
  const d = document.createElement('div');
  d.className = 't';
  d.innerHTML = html;
  d.style.fontSize = (o.size || 21) + 'px';
  if (o.color) d.style.color = o.color;
  if (o.align) d.style.textAlign = o.align;
  if (o.lh) d.style.lineHeight = o.lh;
  d.style.left = x + 'px';
  d.style.top = y + 'px';
  d.style.transform = `translate(${o.anchor === 'left' ? '0' : '-50%'},-50%)` + (o.rot ? ` rotate(${o.rot}deg)` : '');
  document.body.appendChild(d);
}
function key(x, y, color) {
  const k = document.createElement('div');
  k.className = 'key';
  k.style.left = x + 'px';
  k.style.top = (y - 1.5) + 'px';
  k.style.width = '33px';
  k.style.background = color;
  document.body.appendChild(k);
}

const A_KEYS = ['4', '2', '0.8', '0.4', '0.2'];
const A_KEY_COLORS = ['#6ab4e6', '#f0866a', '#fbd565', '#8a6fae', '#8cbf6a'];
const B_KEYS = ['2.5', '1.0', '0.3'];
const B_KEY_COLORS = ['#6ab4e6', '#f0866a', '#8cbf6a'];

txt('(a)', 23, 23, { size: 24 });
txt('<i>P</i><sub>probe</sub> = 10 mW', 127, 44, { anchor: 'left' });
A_KEYS.forEach((k, i) => {
  const y = [98, 126, 155, 183, 211][i];
  key(116, y, A_KEY_COLORS[i]);
  txt(`<i>P</i><sub>LO</sub> = ${k} mW`, 158, y, { anchor: 'left' });
});
txt('Peak Area (SN\u00B7MHz)', 398, 131, { rot: -90 });
txt('<i>P</i><sub>LO</sub> (mW)', 527, 265);

txt('(b)', 707, 22, { size: 24 });
txt('<i>P</i><sub>LO</sub> = 4 mW', 812, 41, { anchor: 'left' });
B_KEYS.forEach((k, i) => {
  const y = [80, 107, 135][i];
  key(792, y, B_KEY_COLORS[i]);
  txt(`<i>P</i><sub>probe</sub> = ${k} mW`, 836, y, { anchor: 'left' });
});
txt('Peak Area (SN\u00B7MHz)', 1065, 130, { rot: -90 });
txt('<i>P</i><sub>probe</sub> (mW)', 1210, 265);

txt('(c)', 24, 453, { size: 24 });
txt('<i>W</i><sub>probe</sub> (<i>\u03BC</i>W/<i>\u03BC</i>m<sup>2</sup>)', 367, 815, { size: 24 });
txt('<i>P</i><sub>LO</sub> (mW)', 210, 657);
txt('Var (<i>U</i><sub>AC</sub>) ( mV<sup>2</sup>)', 372, 545, { rot: -90 });
txt('homodyne detection', 486, 521, { size: 22, rot: -35 });
txt('Linear Fit', 133, 713, { anchor: 'left' });
txt('conventional<br>detectoion', 539, 692, { rot: -37, color: '#2a86cc', align: 'center', lh: '1.05' });

txt('(d)', 708, 453, { size: 24 });
txt('\u0393<sub>HWHM</sub> (MHz)', 727, 609, { size: 24, rot: -90 });
txt('<i>W</i><sub>probe</sub> (<i>\u03BC</i>W/<i>\u03BC</i>m<sup>2</sup>)', 1055, 815, { size: 24 });
txt('homodyne detection', 802, 486, { anchor: 'left', size: 24 });
txt('<i>F</i> = 100', 1104, 494, { anchor: 'left', size: 24 });
txt('<i>F</i> = 200', 1195, 577, { anchor: 'left', size: 24, color: '#f0462a' });
txt('\u0393<sub>0</sub>', 906, 685, { anchor: 'left', size: 24 });
</script>
</body>
</html>
